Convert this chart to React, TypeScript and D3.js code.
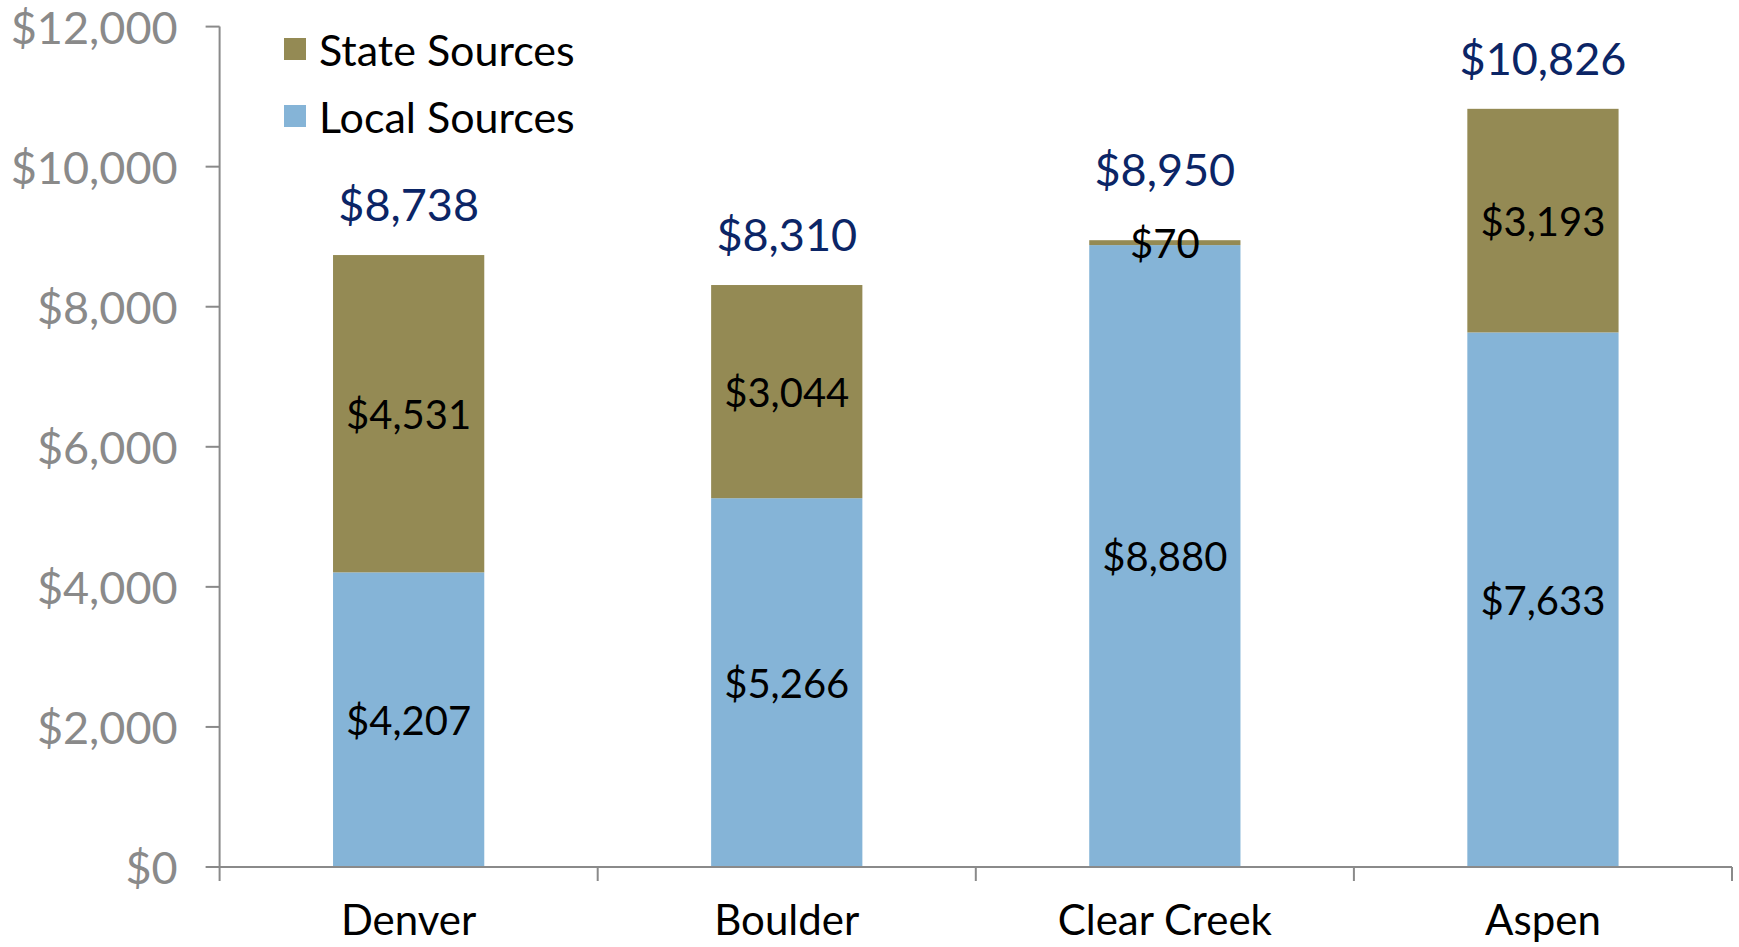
import React, { useEffect, useRef } from 'react';
import * as d3 from 'd3';

const DISTRICTS = ['Denver', 'Boulder', 'Clear Creek', 'Aspen'];
const LOCAL_SOURCES = [4207, 5266, 8880, 7633];
const STATE_SOURCES = [4531, 3044, 70, 3193];
const TOTALS = [8738, 8310, 8950, 10826];
const Y_TICKS = [0, 2000, 4000, 6000, 8000, 10000, 12000];
const SERIES = ['State Sources', 'Local Sources'];

const COLORS = { state: '#948a54', local: '#85b4d7', total: '#0b2566', axis: '#8a8a8a' };
const FONT = 'Lato, "Open Sans", sans-serif';

const money = (v: number) => '$' + d3.format(',')(v);

export default function App() {
  const ref = useRef<SVGSVGElement>(null);

  useEffect(() => {
    const svg = d3.select(ref.current);
    svg.selectAll('*').remove();

    const W = 1739;
    const H = 947;
    const left = 219.6;
    const right = 1732;
    const top = 26.6;
    const bottom = 867;

    const x = d3.scaleBand<string>().domain(DISTRICTS).range([left, right]).paddingInner(0.6).paddingOuter(0.3);
    const y = d3.scaleLinear().domain([0, 12000]).range([bottom, top]);

    svg.attr('width', W).attr('height', H).attr('viewBox', `0 0 ${W} ${H}`);

    const g = svg.append('g');

    // stacked bars
    const rows = DISTRICTS.map((d, i) => ({ d, local: LOCAL_SOURCES[i], state: STATE_SOURCES[i], total: TOTALS[i] }));

    rows.forEach((r) => {
      const x0 = x(r.d)!;
      const bw = x.bandwidth();
      g.append('rect')
        .attr('x', x0).attr('width', bw)
        .attr('y', y(r.local)).attr('height', y(0) - y(r.local))
        .attr('fill', COLORS.local);
      g.append('rect')
        .attr('x', x0).attr('width', bw)
        .attr('y', y(r.local + r.state)).attr('height', y(r.local) - y(r.local + r.state))
        .attr('fill', COLORS.state);

      const cx = x0 + bw / 2;
      g.append('text')
        .attr('x', cx).attr('y', (y(0) + y(r.local)) / 2)
        .attr('text-anchor', 'middle').attr('dominant-baseline', 'central')
        .attr('font-family', FONT).attr('font-size', 40).attr('fill', '#000')
        .text(money(r.local));
      g.append('text')
        .attr('x', cx).attr('y', (y(r.local) + y(r.local + r.state)) / 2)
        .attr('text-anchor', 'middle').attr('dominant-baseline', 'central')
        .attr('font-family', FONT).attr('font-size', 40).attr('fill', '#000')
        .text(money(r.state));

      // total label, lifted further when the state slice is too thin for its own label
      const lift = r.state < 500 ? 71 : 51;
      g.append('text')
        .attr('x', cx).attr('y', y(r.local + r.state) - lift)
        .attr('text-anchor', 'middle').attr('dominant-baseline', 'central')
        .attr('font-family', FONT).attr('font-size', 45).attr('fill', COLORS.total)
        .text(money(r.total));
    });

    // y axis
    g.append('line')
      .attr('x1', left).attr('x2', left).attr('y1', y(12000)).attr('y2', y(0))
      .attr('stroke', COLORS.axis).attr('stroke-width', 2);
    Y_TICKS.forEach((t) => {
      g.append('line')
        .attr('x1', left - 14).attr('x2', left).attr('y1', y(t)).attr('y2', y(t))
        .attr('stroke', COLORS.axis).attr('stroke-width', 2);
      g.append('text')
        .attr('x', left - 42).attr('y', y(t))
        .attr('text-anchor', 'end').attr('dominant-baseline', 'central')
        .attr('font-family', FONT).attr('font-size', 45).attr('fill', COLORS.axis)
        .text(money(t));
    });

    // x axis
    g.append('line')
      .attr('x1', left).attr('x2', right).attr('y1', y(0)).attr('y2', y(0))
      .attr('stroke', COLORS.axis).attr('stroke-width', 2);
    const step = x.step();
    d3.range(DISTRICTS.length + 1).forEach((i) => {
      const bx = left + i * step;
      g.append('line')
        .attr('x1', bx).attr('x2', bx).attr('y1', y(0)).attr('y2', y(0) + 14)
        .attr('stroke', COLORS.axis).attr('stroke-width', 2);
    });
    DISTRICTS.forEach((d) => {
      g.append('text')
        .attr('x', x(d)! + x.bandwidth() / 2).attr('y', 935)
        .attr('text-anchor', 'middle')
        .attr('font-family', FONT).attr('font-size', 42).attr('fill', '#000')
        .text(d);
    });

    // legend
    const legendColors = [COLORS.state, COLORS.local];
    SERIES.forEach((s, i) => {
      const ly = 49 + i * 67;
      g.append('rect')
        .attr('x', 284).attr('y', ly - 11).attr('width', 22).attr('height', 22)
        .attr('fill', legendColors[i]);
      g.append('text')
        .attr('x', 319).attr('y', ly)
        .attr('dominant-baseline', 'central')
        .attr('font-family', FONT).attr('font-size', 43).attr('fill', '#000')
        .text(s);
    });
  }, []);

  return (
    <div style={{ position: 'absolute', left: 0, top: 0, background: '#fff' }}>
      <svg ref={ref} style={{ display: 'block' }} />
    </div>
  );
}
